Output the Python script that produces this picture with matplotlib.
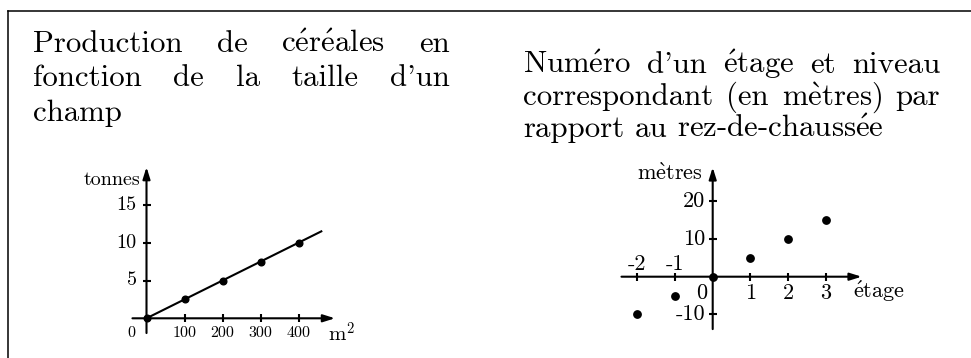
import matplotlib
matplotlib.use("Agg")
import matplotlib.pyplot as plt
from matplotlib.lines import Line2D

plt.rcParams['font.family'] = ['cmr10', 'DejaVu Serif']
plt.rcParams['mathtext.fontset'] = 'cm'
plt.rcParams['axes.unicode_minus'] = False

# --- data ---
surface = [0, 100, 200, 300, 400]          # m2
tonnes = [0, 2.5, 5, 7.5, 10]
droite_x = [0, 460]
droite_y = [0, 11.5]
ticks_surface = [100, 200, 300, 400]
ticks_tonnes = [5, 10, 15]

etage = [-2, -1, 0, 1, 2, 3]
niveau = [-10, -5, 0, 5, 10, 15]
ticks_etage = [-2, -1, 1, 2, 3]
ticks_niveau = [-10, 10, 20]

titre1 = [["Production", "de", "céréales", "en"],
          ["fonction", "de", "la", "taille", "d’un"],
          ["champ"]]
titre2 = [["Numéro", "d’un", "étage", "et", "niveau"],
          ["correspondant", "(en", "mètres)", "par"],
          ["rapport", "au", "rez-de-chaussée"]]

W, H = 971, 358
fig = plt.figure(figsize=(W / 100, H / 100), dpi=100)


def tex(s):
    # cmr10 has no precomposed accents: build them like TeX does
    s = s.replace('é', r'$\acute{\mathrm{e}}$').replace('è', r'$\grave{\mathrm{e}}$')
    return s.replace('’', "'")


def fx(px):
    return px / W


def fy(py):
    return 1 - py / H


def repere(ox, oy, sx, sy, xlim, ylim):
    # ox, oy : pixel position of the origin (from top-left), sx, sy : px per unit
    left = ox + xlim[0] * sx
    bottom = (H - oy) + ylim[0] * sy
    ax = fig.add_axes([left / W, bottom / H,
                       (xlim[1] - xlim[0]) * sx / W,
                       (ylim[1] - ylim[0]) * sy / H])
    ax.set_xlim(xlim)
    ax.set_ylim(ylim)
    ax.axis('off')
    return ax


def fleche(ax, p0, p1):
    ax.annotate('', xy=p1, xytext=p0,
                arrowprops=dict(arrowstyle='-|>,head_length=0.7,head_width=0.22',
                                lw=1.5, color='black', shrinkA=0, shrinkB=0))


def justifier(words, x0, x1, yb, size, last=False):
    r = fig.canvas.get_renderer()
    txts = [fig.text(0, fy(yb), tex(w), fontsize=size, va='baseline', ha='left')
            for w in words]
    widths = [t.get_window_extent(r).width for t in txts]
    if last or len(words) == 1:
        gap = size * 100 / 72 * 0.333   # normal interword space
    else:
        gap = (x1 - x0 - sum(widths)) / (len(words) - 1)
    x = x0
    for t, w in zip(txts, widths):
        t.set_x(fx(x))
        x += w + gap


# cadre
fig.add_artist(Line2D([fx(8), fx(8)], [fy(11), 0], color='black', lw=1.1))
fig.add_artist(Line2D([fx(8), 1], [fy(11), fy(11)], color='black', lw=1.1))

# titres
for i, ligne in enumerate(titre1):
    justifier(ligne, 33, 450, 52 + 34.5 * i, 22.2, last=(i == 2))
for i, ligne in enumerate(titre2):
    justifier(ligne, 523, 940, 73.3 + 32 * i, 22.2, last=(i == 2))

# --- graphique 1 ---
ax1 = repere(146.5, 318.3, 0.38, 7.56, (-40, 505), (-4, 21))
fleche(ax1, (-37, 0), (496, 0))
fleche(ax1, (0, -1.95), (0, 20))
ax1.plot(ticks_surface, [0] * len(ticks_surface), '|', color='black', ms=6, mew=1.5)
ax1.plot([0] * len(ticks_tonnes), ticks_tonnes, '_', color='black', ms=6, mew=1.5)
ax1.plot(droite_x, droite_y, color='black', lw=1.5)
ax1.plot(surface, tonnes, 'o', color='black', ms=4.8)
for v in ticks_surface:
    ax1.annotate(str(v), (v, 0), xytext=(0, -10.6), textcoords='offset points',
                 ha='center', va='center', fontsize=11.5)
ax1.annotate('0', (0, 0), xytext=(-10.7, -10.6), textcoords='offset points',
             ha='center', va='center', fontsize=11.5)
for v in ticks_tonnes:
    ax1.annotate(str(v), (0, v), xytext=(-7, 0), textcoords='offset points',
                 ha='right', va='center', fontsize=14.5)
ax1.annotate('tonnes', (0, 20), xytext=(-4.5, -9), textcoords='offset points',
             ha='right', va='center', fontsize=14.5)
ax1.text(477, -3.1, r'm$^2$', ha='left', va='baseline', fontsize=15)

# --- graphique 2 ---
ax2 = repere(712.7, 276.7, 37.7, 3.77, (-2.6, 4.2), (-15, 30))
fleche(ax2, (-2.42, 0), (3.95, 0))
fleche(ax2, (0, -13.9), (0, 29))
ax2.plot(ticks_etage, [0] * len(ticks_etage), '|', color='black', ms=6, mew=1.5)
ax2.plot([0] * len(ticks_niveau), ticks_niveau, '_', color='black', ms=6, mew=1.5)
ax2.plot(etage, niveau, 'o', color='black', ms=5.3)
for v in ticks_etage:
    dy = 9.1 if v < 0 else -12
    ax2.annotate(str(v), (v, 0), xytext=(0, dy), textcoords='offset points',
                 ha='center', va='center', fontsize=16)
ax2.annotate('0', (0, 0), xytext=(-8, -12), textcoords='offset points',
             ha='center', va='center', fontsize=16)
for v in ticks_niveau:
    ax2.annotate(str(v), (0, v), xytext=(-5.5, 0), textcoords='offset points',
                 ha='right', va='center', fontsize=16)
ax2.annotate(tex('mètres'), (0, 29), xytext=(-7, -4.5), textcoords='offset points',
             ha='right', va='center', fontsize=16)
ax2.text(3.72, -4, tex('étage'), ha='left', va='center', fontsize=16)

fig.savefig('out.png', dpi=100)
